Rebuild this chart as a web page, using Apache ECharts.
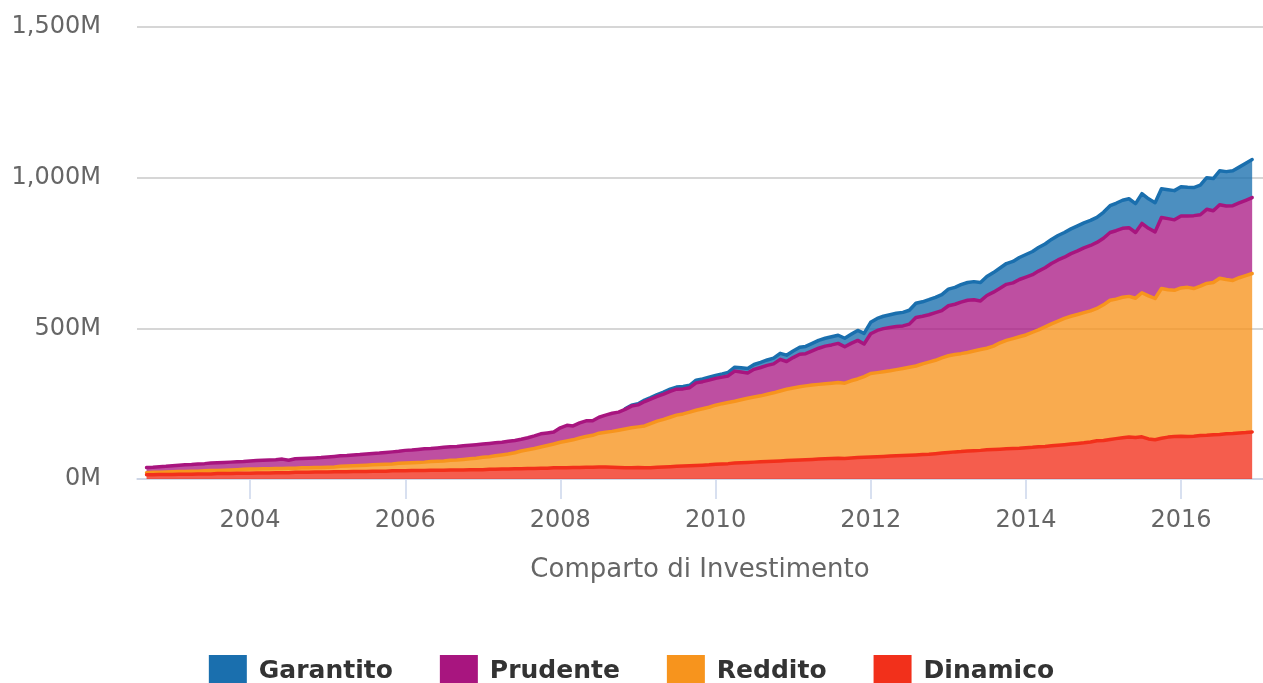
<!DOCTYPE html>
<html>
<head>
<meta charset="utf-8">
<script src="https://cdn.jsdelivr.net/npm/echarts@6/dist/echarts.min.js"></script>
<style>html,body{margin:0;padding:0;background:#fff}#c{width:1263px;height:683px}</style>
</head>
<body>
<div id="c"></div>
<script>
// Monthly series, in millions, starting September 2002 and ending December 2016
const startYear = 2002, startMonth = 9;
const garantitoStartYear = 2008, garantitoStartMonth = 11;
const seriesNames = ['Dinamico', 'Reddito', 'Prudente', 'Garantito'];
const legendOrder = ['Garantito', 'Prudente', 'Reddito', 'Dinamico'];
const tickStepYears = 2;
const yTicks = [0, 500, 1000, 1500];
const axisName = 'Comparto di Investimento';

const dinamico = [
  14,14,15,15,
  15,16,16,16,17,17,17,18,18,18,19,19,
  19,20,20,20,21,21,21,22,22,22,23,23,
  23,24,24,24,25,25,25,26,26,26,27,27,
  27,28,28,28,29,29,29,30,30,30,31,31,
  31,32,32,33,33,34,34,35,35,36,36,37,
  37,37,38,38,39,39,40,40,39,38,37,37,
  38,37,37,39,40,41,42,43,44,45,46,47,
  49,50,51,53,54,55,56,57,58,59,60,61,
  62,63,64,65,66,67,68,69,68,70,71,72,
  73,74,75,76,77,78,79,80,81,82,84,86,
  88,90,91,93,94,95,97,98,99,100,101,102,
  104,105,107,108,110,112,114,116,118,120,123,127,
  128,131,134,137,139,138,140,133,130,135,139,141,
  142,141,142,144,145,147,148,150,151,153,154,156
];
const reddito = [
  7,8,7,8,
  9,9,9,10,9,10,11,10,11,12,12,13,
  14,13,14,14,14,14,15,14,15,15,15,15,
  16,16,18,19,19,20,21,21,22,23,23,25,
  26,26,27,28,29,30,31,32,33,35,36,38,
  41,42,45,47,50,53,59,62,66,70,75,79,
  85,89,92,98,102,106,112,115,119,124,129,133,
  135,139,147,153,158,164,170,173,178,183,187,191,
  196,200,203,205,209,213,216,219,223,227,232,237,
  240,243,245,247,248,249,250,251,250,256,261,268,
  277,279,281,283,286,289,292,295,301,306,310,316,
  321,323,325,327,331,335,337,343,353,360,365,370,
  374,382,388,397,405,412,419,424,428,432,435,439,
  450,462,463,466,467,462,478,475,469,497,489,485,
  492,495,490,496,504,505,518,512,508,515,521,526
];
const prudente = [
  17,17,19,19,
  20,21,22,22,24,24,25,26,26,26,26,26,
  27,28,28,29,29,31,26,31,31,32,32,33,
  34,35,35,35,36,36,37,38,38,39,40,40,
  42,42,43,44,43,44,45,45,45,45,45,45,
  44,44,43,42,42,41,39,40,42,44,42,40,
  48,52,46,50,52,48,53,57,60,60,65,72,
  73,81,81,82,84,86,86,83,81,91,90,90,
  89,88,88,100,92,84,92,94,96,96,105,92,
  101,108,107,113,120,125,127,130,121,124,128,108,
  132,140,143,144,143,141,143,161,158,157,158,157,
  166,167,171,173,170,161,175,179,181,186,185,190,
  192,191,195,196,200,203,203,208,211,215,217,219,
  221,225,227,229,228,218,230,224,221,236,236,234,
  239,237,242,237,246,238,244,244,248,248,250,252
];
// Garantito starts in November 2008
const garantito = [
  2,3,
  4,5,5,6,6,7,7,8,8,9,9,10,
  10,11,12,13,14,15,16,17,18,19,20,21,
  22,23,24,25,26,26,27,27,28,30,33,35,
  38,40,41,42,44,45,46,47,48,50,51,53,
  55,56,58,59,60,61,63,65,67,69,71,73,
  75,77,78,79,80,81,82,82,83,83,83,83,
  86,89,91,93,96,96,99,98,97,95,96,97,
  97,95,93,98,105,107,113,114,116,119,123,126
];

const lineColors = {Garantito:'#1a6fae', Prudente:'#a8157f', Reddito:'#f7941d', Dinamico:'#f2301b'};
const areaColors = {Garantito:'rgba(26,111,174,0.78)', Prudente:'rgba(170,24,132,0.76)', Reddito:'rgba(247,148,29,0.78)', Dinamico:'rgba(242,48,27,0.78)'};

function monthDate(k) { return new Date(startYear, startMonth - 1 + k, 1).getTime(); }
const gOffset = (garantitoStartYear - startYear) * 12 + (garantitoStartMonth - startMonth);
const garantitoFull = dinamico.map((_, k) => (k >= gOffset ? garantito[k - gOffset] : null));

const values = {Dinamico: dinamico, Reddito: reddito, Prudente: prudente, Garantito: garantitoFull};

function fmt(v) { return String(v).replace(/\B(?=(\d{3})+(?!\d))/g, ',') + 'M'; }

const stepMs = tickStepYears * 365.25 * 86400000;

const chart = echarts.init(document.getElementById('c'), null, {renderer: 'canvas'});
chart.setOption({
  animation: false,
  backgroundColor: '#ffffff',
  grid: {left: 137, right: 0, top: 27, bottom: 204, containLabel: false},
  legend: {
    data: legendOrder,
    left: 'center',
    top: 650,
    icon: 'rect',
    itemWidth: 38,
    itemHeight: 32,
    itemGap: 47,
    selectedMode: false,
    textStyle: {fontFamily: 'DejaVu Sans', fontWeight: 'bold', fontSize: 25, color: '#333333', padding: [0, 0, 11, 7]}
  },
  xAxis: {
    type: 'time',
    min: new Date(2002, 6, 18).getTime(),
    max: new Date(2017, 0, 21).getTime(),
    minInterval: stepMs,
    maxInterval: stepMs,
    axisLine: {show: true, lineStyle: {color: '#ccd6eb', width: 1.5}},
    axisTick: {show: true, length: 20, lineStyle: {color: '#ccd6eb', width: 1.5}},
    axisLabel: {
      formatter: v => String(new Date(v).getFullYear()),
      fontFamily: 'DejaVu Sans', fontSize: 24, color: '#666666', margin: 30,
      showMinLabel: false, showMaxLabel: false
    },
    splitLine: {show: false},
    name: axisName,
    nameLocation: 'middle',
    nameGap: 78,
    nameTextStyle: {fontFamily: 'DejaVu Sans', fontSize: 26, color: '#666666'}
  },
  yAxis: {
    type: 'value',
    min: yTicks[0], max: yTicks[yTicks.length - 1], interval: yTicks[1] - yTicks[0],
    axisLine: {show: false},
    axisTick: {show: false},
    axisLabel: {formatter: fmt, fontFamily: 'DejaVu Sans', fontSize: 24, color: '#666666', margin: 36},
    splitLine: {lineStyle: {color: '#c8c8c8', width: 1.5}}
  },
  series: seriesNames.map((name, idx) => ({
    name: name,
    type: 'line',
    stack: 'total',
    symbol: 'none',
    showSymbol: false,
    connectNulls: false,
    data: values[name].map((v, k) => [monthDate(k), v]),
    lineStyle: {width: 3.5, color: lineColors[name], cap: 'round', join: 'round'},
    itemStyle: {color: lineColors[name]},
    areaStyle: {color: areaColors[name], opacity: 1},
    emphasis: {disabled: true},
    z: 10 - idx
  }))
});
</script>
</body>
</html>
